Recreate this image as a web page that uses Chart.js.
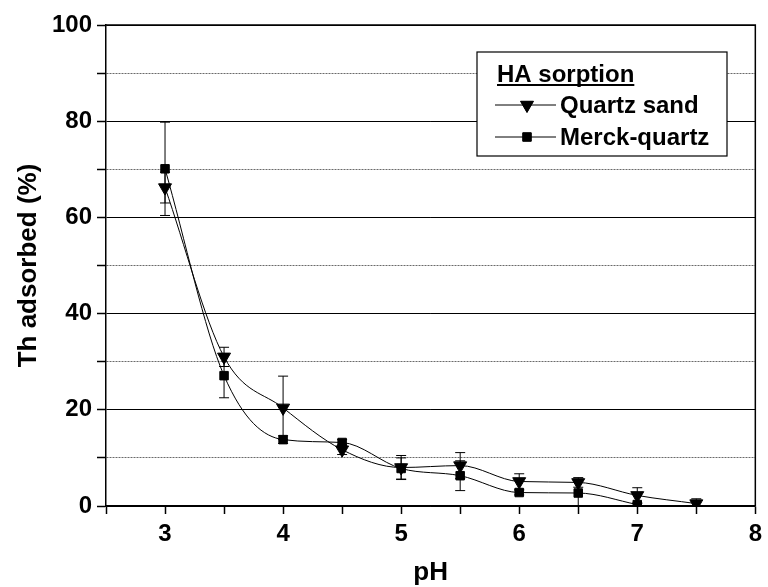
<!DOCTYPE html>
<html>
<head>
<meta charset="utf-8">
<title>Th adsorbed vs pH</title>
<script src="https://cdn.jsdelivr.net/npm/chart.js@4.4.0/dist/chart.umd.min.js"></script>
<style>
  html, body { margin: 0; padding: 0; background: #fff; }
  #wrap { width: 768px; height: 587px; }
</style>
</head>
<body>
<div id="wrap"><canvas id="thChart" width="768" height="587"></canvas></div>
<script>
// values
const phValues = [3, 3.5, 4, 4.5, 5, 5.5, 6, 6.5, 7, 7.5];
const quartzSand = [66.2, 31.0, 20.4, 11.7, 8.0, 8.4, 5.1, 4.9, 2.2, 0.5];
const quartzSandErr = [3.2, 2.0, 6.6, 1.0, 2.5, 2.7, 1.6, 1.0, 1.6, 1.0];
const merckQuartz = [70.1, 27.1, 13.8, 13.2, 7.8, 6.3, 2.8, 2.7, 0.3, null];
const merckQuartzErr = [9.7, 4.6, 0.8, 0.6, 2.2, 3.1, 0.5, 2.6, 0.3, null];

const xTickLabels = [3, 4, 5, 6, 7, 8];
const yTickLabels = [0, 20, 40, 60, 80, 100];
const legendTitle = "HA sorption";
const seriesNames = ["Quartz sand", "Merck-quartz"];

const FONT = "'Liberation Sans', Arial, sans-serif";

function toPoints(ys, errs) {
  const pts = [];
  phValues.forEach((x, i) => {
    if (ys[i] !== null) pts.push({ x: x, y: ys[i], err: errs[i] });
  });
  return pts;
}

function isMajor(c) {
  return !c.tick || c.tick.value % 20 === 0;
}

// vertical error bars with caps
const errorBars = {
  id: "errorBars",
  afterDatasetsDraw(chart) {
    const ctx = chart.ctx;
    const yScale = chart.scales.y;
    ctx.save();
    ctx.strokeStyle = "#000";
    ctx.lineWidth = 1;
    chart.data.datasets.forEach((ds, di) => {
      const meta = chart.getDatasetMeta(di);
      ds.data.forEach((p, i) => {
        if (!p.err) return;
        const px = meta.data[i].x;
        const top = yScale.getPixelForValue(p.y + p.err);
        const bot = yScale.getPixelForValue(Math.max(p.y - p.err, 0));
        ctx.beginPath();
        ctx.moveTo(px, top);
        ctx.lineTo(px, bot);
        ctx.moveTo(px - 5, top);
        ctx.lineTo(px + 5, top);
        ctx.moveTo(px - 5, bot);
        ctx.lineTo(px + 5, bot);
        ctx.stroke();
      });
    });
    ctx.restore();
  },
};

// top and right frame lines
const frame = {
  id: "frame",
  afterDraw(chart) {
    const { ctx, chartArea } = chart;
    ctx.save();
    ctx.strokeStyle = "#000";
    ctx.lineWidth = 1.5;
    ctx.beginPath();
    ctx.moveTo(chartArea.left, chartArea.top);
    ctx.lineTo(chartArea.right, chartArea.top);
    ctx.lineTo(chartArea.right, chartArea.bottom);
    ctx.stroke();
    ctx.restore();
  },
};

// boxed legend with underlined title
const boxLegend = {
  id: "boxLegend",
  afterDraw(chart) {
    const ctx = chart.ctx;
    const box = { left: 477, top: 52, right: 727, bottom: 156 };
    ctx.save();
    ctx.fillStyle = "#fff";
    ctx.fillRect(box.left, box.top, box.right - box.left, box.bottom - box.top);
    ctx.strokeStyle = "#000";
    ctx.lineWidth = 1.2;
    ctx.strokeRect(box.left, box.top, box.right - box.left, box.bottom - box.top);

    ctx.fillStyle = "#000";
    ctx.font = "bold 24px " + FONT;
    ctx.textBaseline = "alphabetic";
    ctx.fillText(legendTitle, 497, 82);
    const w = ctx.measureText(legendTitle).width;
    ctx.fillRect(497, 84, w, 2);

    const rowY = [105, 137];
    chart.data.datasets.forEach((ds, i) => {
      const y = rowY[i];
      ctx.lineWidth = 1;
      ctx.beginPath();
      ctx.moveTo(495, y);
      ctx.lineTo(556, y);
      ctx.stroke();
      Chart.helpers.drawPoint(ctx, {
        pointStyle: ds.pointStyle,
        rotation: ds.rotation || 0,
        radius: ds.pointRadius,
        borderWidth: 1,
      }, 527, y);
      ctx.fill();
      ctx.textBaseline = "middle";
      ctx.fillText(seriesNames[i], 560, y + 1);
    });
    ctx.restore();
  },
};

new Chart(document.getElementById("thChart"), {
  type: "line",
  data: {
    datasets: [
      {
        label: seriesNames[0],
        data: toPoints(quartzSand, quartzSandErr),
        borderColor: "#000",
        borderWidth: 1,
        backgroundColor: "#000",
        pointStyle: "triangle",
        rotation: 180,
        pointRadius: 7.5,
        pointBorderWidth: 1,
        cubicInterpolationMode: "monotone",
      },
      {
        label: seriesNames[1],
        data: toPoints(merckQuartz, merckQuartzErr),
        borderColor: "#000",
        borderWidth: 1,
        backgroundColor: "#000",
        pointStyle: "rect",
        pointRadius: 6,
        pointBorderWidth: 1,
        cubicInterpolationMode: "monotone",
      },
    ],
  },
  options: {
    responsive: false,
    animation: false,
    devicePixelRatio: 1,
    layout: { padding: { top: 25, right: 7, left: 0, bottom: 0 } },
    plugins: {
      legend: { display: false },
      tooltip: { enabled: false },
    },
    scales: {
      x: {
        type: "linear",
        min: 2.5,
        max: 8,
        afterFit: (scale) => { scale.height = 81; },
        ticks: {
          stepSize: 0.5,
          autoSkip: false,
          maxRotation: 0,
          padding: 6,
          color: "#000",
          font: { family: FONT, size: 24, weight: "bold" },
          callback: (v) => (xTickLabels.includes(v) ? String(v) : ""),
        },
        grid: {
          drawOnChartArea: false,
          drawTicks: true,
          tickLength: 8,
          tickColor: "#000",
          tickWidth: 1.5,
        },
        border: { color: "#000", width: 1.5 },
        title: {
          display: true,
          text: "pH",
          color: "#000",
          font: { family: FONT, size: 26, weight: "bold", lineHeight: 1 },
          padding: { top: 0, bottom: 1 },
        },
      },
      y: {
        min: 0,
        max: 100,
        afterFit: (scale) => { scale.width = 106; },
        ticks: {
          stepSize: 10,
          autoSkip: false,
          padding: 5,
          color: "#000",
          font: { family: FONT, size: 24, weight: "bold" },
          callback: (v) => (yTickLabels.includes(v) ? String(v) : ""),
        },
        grid: {
          color: (c) => (isMajor(c) ? "#000" : "#6a6a6a"),
          lineWidth: 1,
          tickLength: 9,
          tickColor: "#000",
          tickWidth: 1.5,
          tickBorderDash: [],
        },
        border: {
          color: "#000",
          width: 1.5,
          dash: (c) => (isMajor(c) ? [] : [2, 1]),
        },
        title: {
          display: true,
          text: "Th adsorbed (%)",
          color: "#000",
          font: { family: FONT, size: 26, weight: "bold", lineHeight: 1 },
          padding: { top: 16, bottom: 0 },
        },
      },
    },
  },
  plugins: [errorBars, frame, boxLegend],
});
</script>
</body>
</html>
